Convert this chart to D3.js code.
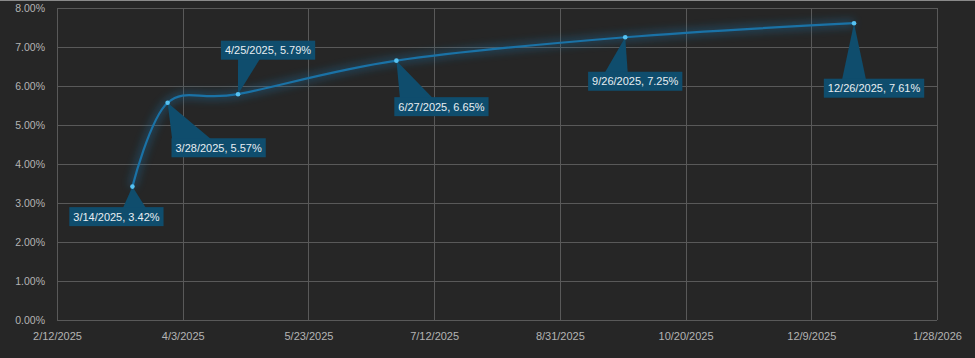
<!DOCTYPE html>
<html><head><meta charset="utf-8">
<script src="https://cdn.jsdelivr.net/npm/d3@7"></script>
<style>
html,body{margin:0;padding:0;background:#262626;}
svg{display:block;}
</style></head>
<body>
<script>
// ---- data ----
const dates = ["2025-03-14","2025-03-28","2025-04-25","2025-06-27","2025-09-26","2025-12-26"];
const rates = [3.42, 5.57, 5.79, 6.65, 7.25, 7.61];
const labelTexts = ["3/14/2025, 3.42%","3/28/2025, 5.57%","4/25/2025, 5.79%","6/27/2025, 6.65%","9/26/2025, 7.25%","12/26/2025, 7.61%"];
const xTickDates = ["2025-02-12","2025-04-03","2025-05-23","2025-07-12","2025-08-31","2025-10-20","2025-12-09","2026-01-28"];
const yTicks = [0,1,2,3,4,5,6,7,8];

// ---- layout (label callouts: box center offset from point, pointer base offset & width) ----
const labelLayout = [
  {dx:-16, dy:30, bx:2, bw:23},
  {dx:51, dy:45, bx:24, bw:39},
  {dx:30, dy:-44, bx:11, bw:22},
  {dx:45, dy:46, bx:20, bw:33},
  {dx:10, dy:44, bx:-9, bw:23},
  {dx:20, dy:65, bx:0, bw:24}
];

const W=975, H=358;
const m={l:57,r:38,t:8,b:38};
const parse=d3.timeParse("%Y-%m-%d");
const fmt=d3.timeFormat("%-m/%-d/%Y");

const svg=d3.select("body").append("svg").attr("width",W).attr("height",H);
svg.append("rect").attr("width",W).attr("height",H).attr("fill","#262626");
svg.append("line").attr("x1",0).attr("x2",W).attr("y1",0.5).attr("y2",0.5).attr("stroke","#8a8a8a").attr("stroke-width",1);

const x=d3.scaleTime().domain([parse(xTickDates[0]),parse(xTickDates[xTickDates.length-1])]).range([m.l,W-m.r]);
const y=d3.scaleLinear().domain([0,8]).range([H-m.b,m.t]);

const defs=svg.append("defs");
const f=defs.append("filter").attr("id","glow").attr("x","-20%").attr("y","-50%").attr("width","140%").attr("height","200%");
f.append("feGaussianBlur").attr("stdDeviation",4).attr("result","b");

// grid
const g=svg.append("g");
g.selectAll(".hg").data(yTicks).join("line")
 .attr("x1",m.l).attr("x2",W-m.r).attr("y1",d=>Math.round(y(d))+0.5).attr("y2",d=>Math.round(y(d))+0.5)
 .attr("stroke","#595959").attr("stroke-width",1);
g.selectAll(".vg").data(xTickDates).join("line")
 .attr("y1",m.t).attr("y2",H-m.b).attr("x1",d=>Math.round(x(parse(d)))+0.5).attr("x2",d=>Math.round(x(parse(d)))+0.5)
 .attr("stroke","#595959").attr("stroke-width",1);

// axes
const yAxis=d3.axisLeft(y).tickValues(yTicks).tickFormat(d=>d.toFixed(2)+"%").tickSize(0).tickPadding(12);
const ya=svg.append("g").attr("transform",`translate(${m.l},0)`).call(yAxis);
ya.select(".domain").remove();
ya.selectAll("text").attr("fill","#b4b4b4").style("font-family","'Liberation Sans',Arial,sans-serif").style("font-size","10.5px");

const xAxis=d3.axisBottom(x).tickValues(xTickDates.map(parse)).tickFormat(fmt).tickSize(0).tickPadding(12);
const xa=svg.append("g").attr("transform",`translate(0,${H-m.b})`).call(xAxis);
xa.select(".domain").remove();
xa.selectAll("text").attr("fill","#b4b4b4").style("font-family","'Liberation Sans',Arial,sans-serif").style("font-size","11px");

// line
const pts=dates.map((d,i)=>({x:x(parse(d)),y:y(rates[i])}));
const line=d3.line().x(d=>d.x).y(d=>d.y).curve(d3.curveCardinal.tension(0));
svg.append("path").attr("d",line(pts)).attr("fill","none").attr("stroke","#1a6fa3").attr("stroke-width",7).attr("opacity",0.45).attr("filter","url(#glow)");
svg.append("path").attr("d",line(pts)).attr("fill","none").attr("stroke","#1a72a6").attr("stroke-width",2.2);

// callouts
const lg=svg.append("g");
pts.forEach((p,i)=>{
  const L=labelLayout[i];
  const cx=p.x+L.dx, cy=p.y+L.dy;
  const t=lg.append("text").text(labelTexts[i]).attr("x",cx).attr("y",cy).attr("text-anchor","middle").attr("dominant-baseline","central")
    .attr("fill","#e8eef2").style("font-family","'Liberation Sans',Arial,sans-serif").style("font-size","11px");
  const tw=t.node().getComputedTextLength();
  const bw=tw+8, bh=19;
  const bx0=cx-bw/2, by0=cy-bh/2;
  const baseC=p.x+L.bx;
  const edgeY = L.dy>0 ? by0+1 : by0+bh-1;
  lg.insert("path","text").attr("d",`M${p.x},${p.y}L${baseC-L.bw/2},${edgeY}L${baseC+L.bw/2},${edgeY}Z`).attr("fill","#0f4d6d");
  lg.insert("rect","text").attr("x",bx0).attr("y",by0).attr("width",bw).attr("height",bh).attr("fill","#0f4d6d");
});

// markers
svg.selectAll(".mk").data(pts).join("circle").attr("cx",d=>d.x).attr("cy",d=>d.y).attr("r",2.3).attr("fill","#56c2f2");
</script>
</body></html>
